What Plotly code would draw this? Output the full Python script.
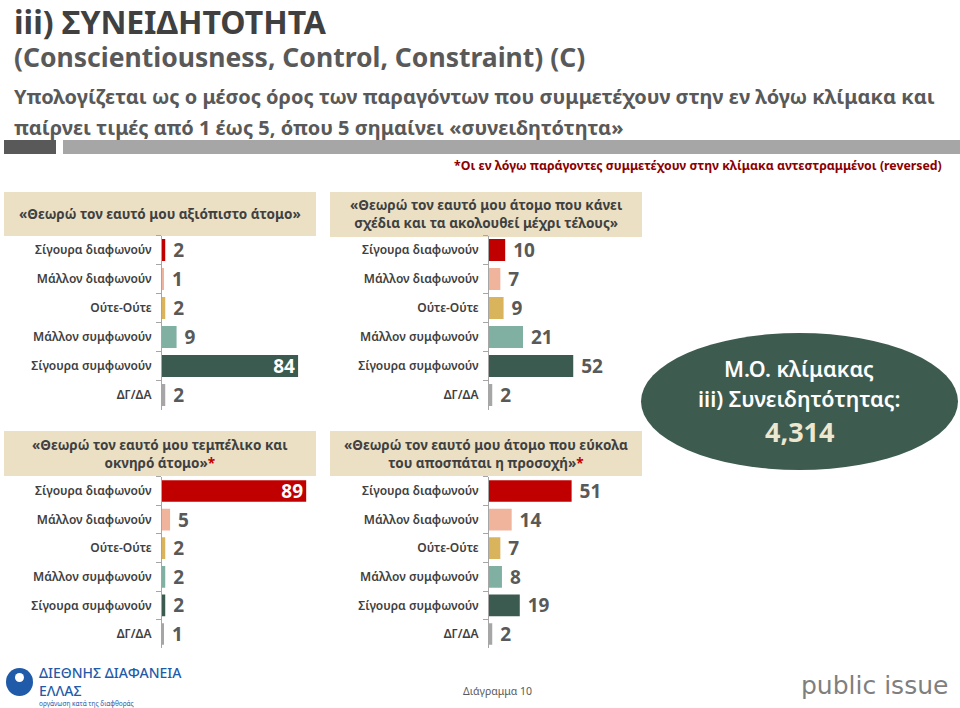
import plotly.graph_objects as go

W, H = 960, 708

categories = ["Σίγουρα διαφωνούν", "Μάλλον διαφωνούν", "Ούτε-Ούτε",
              "Μάλλον συμφωνούν", "Σίγουρα συμφωνούν", "ΔΓ/ΔΑ"]
colors = ["#C00000", "#F0B39B", "#D9B45C", "#80B0A2", "#3C5B50", "#A6A6A6"]

panel_titles = [
    "«Θεωρώ τον εαυτό μου αξιόπιστο άτομο»",
    "«Θεωρώ τον εαυτό μου άτομο που κάνει<br>σχέδια και τα ακολουθεί μέχρι τέλους»",
    "«Θεωρώ τον εαυτό μου τεμπέλικο και<br>οκνηρό άτομο»<span style='color:#C00000'>*</span>",
    "«Θεωρώ τον εαυτό μου άτομο που εύκολα<br>του αποσπάται η προσοχή»<span style='color:#C00000'>*</span>",
]
values_reliable = [2, 1, 2, 9, 84, 2]
values_plans = [10, 7, 9, 21, 52, 2]
values_lazy = [89, 5, 2, 2, 2, 1]
values_distracted = [51, 14, 7, 8, 19, 2]
panel_values = [values_reliable, values_plans, values_lazy, values_distracted]

scale_mean = "4,314"

FONT = "Noto Sans"
GRAY = "#595959"


def px(x):
    return x / W


def py(y):
    return 1 - y / H


# panel geometry in page pixels: (axis x, title box x0, x1, title y0, y1, plot top, plot bottom)
panels = [
    (162, 4, 316, 192, 236, 235.5, 409.5),
    (489, 330, 642, 192, 237, 235.5, 409.5),
    (162, 4, 316, 431, 476, 476.7, 648.3),
    (489, 330, 642, 431, 476, 476.7, 648.3),
]
PX_PER_UNIT = 1.62

fig = go.Figure()
shapes = []
annotations = []
layout_axes = {}

for i, (vals, geo) in enumerate(zip(panel_values, panels), start=1):
    ax_x, bx0, bx1, by0, by1, ptop, pbot = geo
    xr = 100
    xdom = [px(ax_x), px(ax_x + xr * PX_PER_UNIT)]
    ydom = [py(pbot), py(ptop)]
    big = [v >= 60 for v in vals]
    fig.add_trace(go.Bar(
        x=vals, y=categories, orientation="h",
        marker=dict(color=colors, line=dict(width=0)),
        text=[str(v) if b else "\u00a0" + str(v) for v, b in zip(vals, big)],
        textposition=["inside" if b else "outside" for b in big],
        insidetextanchor="end", textangle=0,
        textfont=dict(family=FONT, size=19, weight="bold",
                      color=["white" if b else GRAY for b in big]),
        constraintext="none", cliponaxis=False,
        xaxis=f"x{i}", yaxis=f"y{i}", showlegend=False, hoverinfo="skip",
    ))
    layout_axes[f"xaxis{i}"] = dict(domain=xdom, range=[0, xr], visible=False,
                                    anchor=f"y{i}", fixedrange=True)
    layout_axes[f"yaxis{i}"] = dict(
        domain=ydom, type="category", categoryorder="array",
        categoryarray=categories, range=[5.5, -0.5], anchor=f"x{i}",
        showline=True, linecolor="#A6A6A6", linewidth=1,
        ticks="outside", tickson="boundaries", ticklen=5, tickcolor="#A6A6A6",
        ticklabelstandoff=7, showgrid=False, zeroline=False, fixedrange=True,
        tickfont=dict(family=FONT, size=12, color="#404040", weight=600),
    )
    shapes.append(dict(type="rect", xref="paper", yref="paper",
                       x0=px(bx0), x1=px(bx1), y0=py(by1), y1=py(by0),
                       fillcolor="#EBE0C4", line=dict(width=0), layer="below"))
    annotations.append(dict(
        x=px((bx0 + bx1) / 2), y=py((by0 + by1) / 2), xref="paper", yref="paper",
        text=panel_titles[i - 1], showarrow=False, xanchor="center", yanchor="middle",
        font=dict(family=FONT, size=13.5, color="#404040", weight="bold"), align="center",
    ))

# header bars
shapes.append(dict(type="rect", xref="paper", yref="paper", x0=px(4), x1=px(56),
                   y0=py(154), y1=py(140), fillcolor="#595959", line=dict(width=0)))
shapes.append(dict(type="rect", xref="paper", yref="paper", x0=px(63), x1=px(960),
                   y0=py(154), y1=py(140), fillcolor="#A6A6A6", line=dict(width=0)))

# ellipse
shapes.append(dict(type="circle", xref="paper", yref="paper", x0=px(641), x1=px(958),
                   y0=py(470), y1=py(333), fillcolor="#3E5B50", line=dict(width=0)))

# logo circle
shapes.append(dict(type="circle", xref="paper", yref="paper", x0=px(6), x1=px(33),
                   y0=py(696), y1=py(668), fillcolor="#1F5BA8", line=dict(width=0)))
shapes.append(dict(type="circle", xref="paper", yref="paper", x0=px(15), x1=px(24),
                   y0=py(682), y1=py(673), fillcolor="white", line=dict(width=0)))


def txt(x, y, s, size, color, weight="normal", xanchor="left", family=FONT, yanchor="middle"):
    annotations.append(dict(x=px(x), y=py(y), xref="paper", yref="paper", text=s,
                            showarrow=False, xanchor=xanchor, yanchor=yanchor, align="left",
                            font=dict(family=family, size=size, color=color, weight=weight)))


txt(12, 22, "iii) ΣΥΝΕΙΔΗΤΟΤΗΤΑ", 32, "#404040", "bold")
txt(12, 57, "(Conscientiousness, Control, Constraint) (C)", 26.5, GRAY, "bold")
txt(12, 97, "Υπολογίζεται ως ο μέσος όρος των παραγόντων που συμμετέχουν στην εν λόγω κλίμακα και",
    20, GRAY, "bold")
txt(12, 127, "παίρνει τιμές από 1 έως 5, όπου 5 σημαίνει «συνειδητότητα»", 20, GRAY, "bold")
txt(944, 165, "*Οι εν λόγω παράγοντες συμμετέχουν στην κλίμακα αντεστραμμένοι (reversed)",
    12.3, "#8B0000", "bold", xanchor="right")

txt(799, 368, "Μ.Ο. κλίμακας", 21.5, "white", 600, xanchor="center")
txt(799, 398, "iii) Συνειδητότητας:", 21.5, "white", 600, xanchor="center")
txt(799, 431, scale_mean, 27, "#EEE7CF", "bold", xanchor="center")

txt(37, 681, "ΔΙΕΘΝΗΣ ΔΙΑΦΑΝΕΙΑ<br>ΕΛΛΑΣ", 14, "#1F5BA8", 500)
txt(37, 703, "οργάνωση κατά της διαφθοράς", 6.5, "#1F5BA8")
txt(497, 691, "Διάγραμμα 10", 10.5, GRAY, xanchor="center")
txt(874, 685, "public issue", 25, "#7F7F7F", xanchor="center", family="DejaVu Sans")

fig.update_layout(
    width=W, height=H, margin=dict(l=0, r=0, t=0, b=0),
    paper_bgcolor="white", plot_bgcolor="white",
    bargap=0.24, shapes=shapes, annotations=annotations, showlegend=False,
    hovermode=False,
    **layout_axes,
)

# remove the browser's default 8px body margin so the figure fills the window exactly
fig.write_html("out.html", config={"displayModeBar": False},
               post_script="document.body.style.margin='0';document.body.style.overflow='hidden';")
